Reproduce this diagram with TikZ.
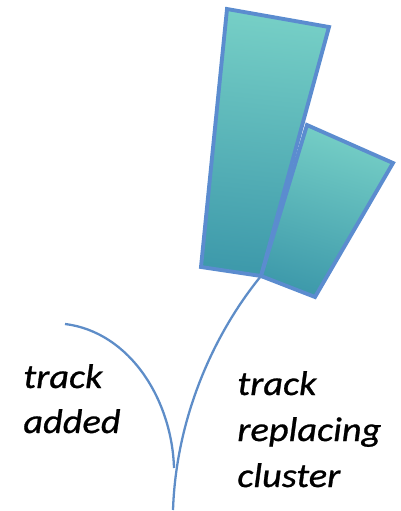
\documentclass[tikz,border=0pt]{standalone}
\usepackage{fontspec}
\setmainfont{Carlito}[ItalicFeatures={FakeStretch=1.12, FakeBold=0.8}]
\usepackage{tikz}

\definecolor{edgeblue}{HTML}{5B8CCF}
\definecolor{trackblue}{HTML}{5E8DC8}
\definecolor{tealtop}{HTML}{76CFC6}
\definecolor{tealmid}{HTML}{4CC3BD}
\definecolor{tealbot}{HTML}{3E9AAB}

\tikzset{
  cell/.style={draw=edgeblue, line width=2.2pt, line join=miter,
    top color=tealtop, middle color=tealmid, bottom color=tealbot},
  track/.style={draw=trackblue, line width=1.3pt},
  lbl/.style={anchor=base west, inner sep=0pt, align=left,
    font=\fontsize{19.5}{26}\selectfont\itshape}
}

\begin{document}
\begin{tikzpicture}[x=0.02cm, y=-0.02cm]
\useasboundingbox (0,0) rectangle (401,511);

% cluster cells
\coordinate (c1a) at (227,9);
\coordinate (c1b) at (329,27);
\coordinate (c1c) at (261,276);
\coordinate (c1d) at (201,267);
\coordinate (c2a) at (307,125);
\coordinate (c2b) at (393,163);
\coordinate (c2c) at (315,297);

\shade[cell, shading angle=-6] (c1a) -- (c1b) -- (c1c) -- (c1d) -- cycle;
\shade[cell, shading angle=-16] (c2a) -- (c2b) -- (c2c) -- (c1c) -- cycle;

% tracks
\coordinate (bot) at (173,510);
\coordinate (join) at (174,468);
\coordinate (added) at (65,324);
\draw[track] (c1c) .. controls (212,336) and (176,420) .. (bot);
\draw[track] (added) .. controls (130,332) and (172,400) .. (join);

\node[lbl] (lbladd) at (23,388) {track};
\node[lbl] (lbladd2) at (23,433) {added};
\node[lbl] (lblrep) at (237,395) {track};
\node[lbl] (lblrep2) at (237,441) {replacing};
\node[lbl] (lblrep3) at (237,487) {cluster};
\end{tikzpicture}
\end{document}
